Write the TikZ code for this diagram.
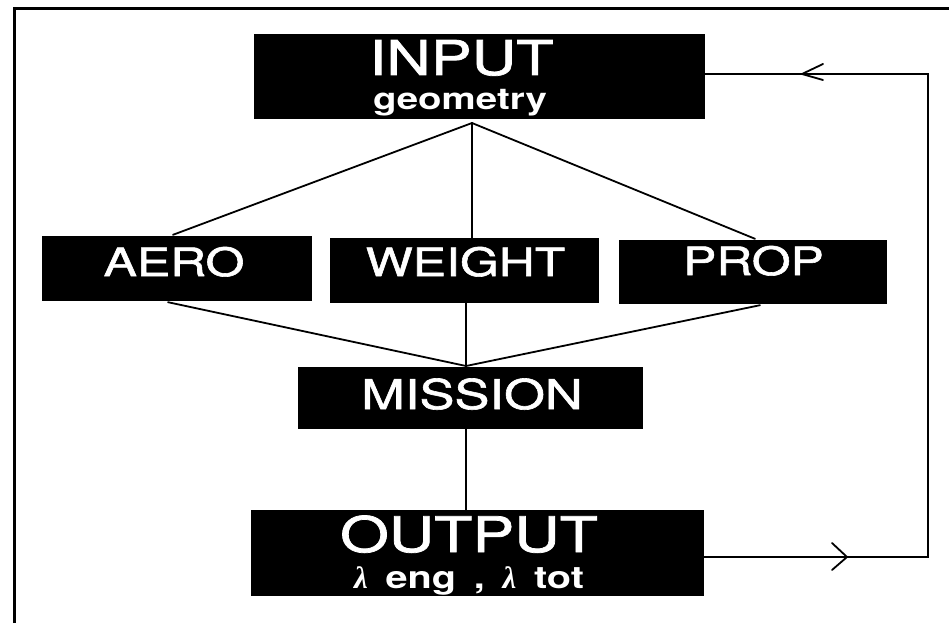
\documentclass[tikz,border=0pt]{standalone}
\usepackage{fontspec}
\newfontfamily\hv[FakeStretch=1.28]{TeX Gyre Heros}
\newfontfamily\hvm[FakeStretch=1.28, FakeBold=1.5]{TeX Gyre Heros}
\newfontfamily\lamfont{Liberation Serif}
\usetikzlibrary{calc}
\newcommand{\lam}{{\lamfont\bfseries\itshape λ}}
\begin{document}
\begin{tikzpicture}[x=1pt,y=-1pt,
  box/.style={fill=black, draw=none, inner sep=0pt},
  lbl/.style={text=white, anchor=base, inner sep=0pt},
  conn/.style={line width=1.8pt, line cap=round},
  frameline/.style={line width=3pt}]
\useasboundingbox (0,0) rectangle (949,623);
% frame
\draw[frameline] (14,623) -- (14,9) -- (949,9);
% boxes
\node[box, minimum width=451pt, minimum height=85pt] (in) at (479.5,76.5) {};
\node[box, minimum width=270pt, minimum height=65pt] (aero) at (177,268.5) {};
\node[box, minimum width=269pt, minimum height=65pt] (weight) at (464.5,270.5) {};
\node[box, minimum width=268pt, minimum height=64pt] (prop) at (753,272) {};
\node[box, minimum width=345pt, minimum height=62pt] (mis) at (470.5,398) {};
\node[box, minimum width=453pt, minimum height=86pt] (out) at (477.5,553) {};
% texts
\node[lbl, font=\hvm\fontsize{48}{48}\selectfont] (tin) at (461.5,75) {INPUT};
\node[lbl, font=\hv\bfseries\fontsize{30}{30}\selectfont] (tgeo) at (460,110) {geometry};
\node[lbl, font=\hvm\fontsize{39}{39}\selectfont] (taero) at (174,276) {AERO};
\node[lbl, font=\hvm\fontsize{39}{39}\selectfont] (tweight) at (465.5,276) {WEIGHT};
\node[lbl, font=\hvm\fontsize{39}{39}\selectfont] (tprop) at (753.5,275) {PROP};
\node[lbl, font=\hvm\fontsize{41}{41}\selectfont] (tmis) at (472,409) {MISSION};
\node[lbl, font=\hvm\fontsize{49}{49}\selectfont] (tout) at (469,552) {OUTPUT};
\node[lbl, font=\hv\bfseries\fontsize{31}{31}\selectfont] (tlam) at (469,588)
  {\makebox[230pt][s]{\lam\hfill eng\hfill ,\hfill \lam\hfill tot}};
% connectors
\coordinate (inapex) at (472,123);
\coordinate (misapex) at (466,366);
\draw[conn] (inapex) -- ($(aero.north)+(-4,-1)$);
\draw[conn] (inapex) -- (inapex |- weight.north);
\draw[conn] (inapex) -- ($(prop.north)+(2,-1)$);
\draw[conn] ($(aero.south)+(-9,1)$) -- (misapex);
\draw[conn] (misapex |- weight.south) -- (misapex);
\draw[conn] ($(prop.south)+(7,1)$) -- (misapex);
\draw[conn] (misapex |- mis.south) -- (misapex |- out.north);
% feedback loop
\coordinate (fbT) at (928,74);
\coordinate (fbB) at (928,557);
\draw[conn, line cap=butt] (fbB -| out.east) -- (fbB) -- (fbT) -- (fbT -| in.east);
\coordinate (chT) at (802,74);
\draw[conn] ($(chT)+(21,-10)$) -- (chT) -- ($(chT)+(21,6)$);
\coordinate (chB) at (847,557);
\draw[conn] ($(chB)+(-15,-14)$) -- (chB) -- ($(chB)+(-15,13)$);
\end{tikzpicture}
\end{document}
